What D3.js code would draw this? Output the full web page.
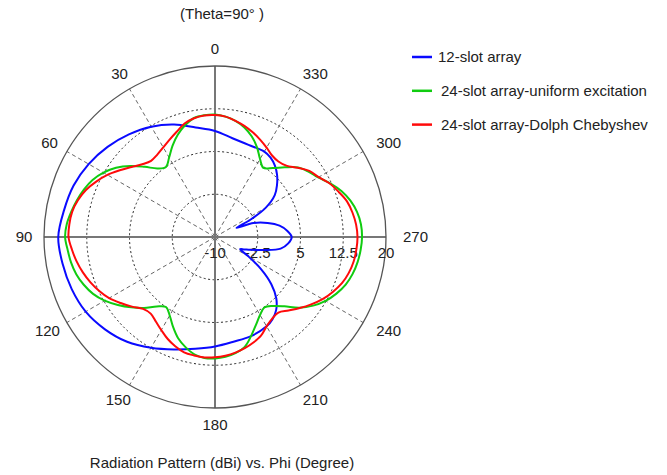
<!DOCTYPE html>
<html>
<head>
<meta charset="utf-8">
<script src="https://cdn.jsdelivr.net/npm/d3@7"></script>
<style>
  body { margin: 0; background: #fff; }
  svg text { font-family: "Liberation Sans", Arial, sans-serif; font-size: 15px; fill: #222; }
</style>
</head>
<body>
<svg id="chart" width="667" height="475"></svg>
<script>
// angles in degrees, counted counter-clockwise from the top (0 at top, 90 at left)
var angles = d3.range(0, 360, 5);

var greenGain = [
  11.5, 11.45, 11.2, 10.3, 9.1, 7.65, 6.1, 5.0, 5.7, 7.4, 9.4, 11.2, 12.6, 13.7, 14.45, 15.05, 15.6, 16.1, 16.3,
  15.95, 15.65, 15.2, 14.5, 13.6, 12.35, 10.8, 9.2, 7.6, 5.9, 5.0, 5.9, 7.4, 8.9, 10.0, 10.9, 11.3, 11.3,
  11.1, 10.7, 10.0, 8.5, 7.0, 5.8, 5.1, 5.8, 7.2, 9.3, 11.0, 12.4, 13.5, 14.4, 15.0, 15.4, 15.65, 15.8,
  15.7, 15.3, 14.6, 13.6, 12.3, 10.9, 10.0, 9.0, 7.3, 5.8, 4.8, 5.8, 7.4, 8.8, 9.9, 10.7, 11.2
];

var redGain = [
  11.4, 11.4, 11.15, 10.6, 9.65, 8.85, 8.15, 7.65, 7.45, 8.05, 9.1, 10.4, 11.8, 13.0, 14.1, 14.9, 15.45, 15.65, 15.7,
  15.2, 14.65, 14.0, 13.25, 12.4, 11.45, 10.2, 9.0, 7.85, 7.55, 8.1, 8.85, 9.7, 10.4, 10.95, 11.1, 11.2, 11.1,
  10.9, 10.6, 10.2, 9.7, 9.1, 8.1, 7.5, 7.3, 8.25, 9.4, 10.6, 11.8, 12.8, 13.7, 14.3, 14.7, 14.9, 15.0,
  14.85, 14.5, 14.0, 13.1, 12.2, 11.0, 10.2, 8.9, 7.7, 7.3, 7.45, 8.1, 8.8, 9.5, 10.15, 10.7, 11.2
];

// the 12-slot pattern has two deep nulls, so it gets its own angle list
var blueAngles = [0, 10, 20, 30, 40, 50, 60, 70, 80, 90, 100, 110, 120, 130, 140, 150, 160, 170, 180,
  190, 200, 210, 215, 220, 225, 230, 235, 240, 244, 247, 250, 255, 260, 265, 270,
  275, 280, 285, 290, 293, 296, 300, 305, 310, 315, 320, 325, 330, 340, 350];
var blueGain = [8.6, 9.5, 11.0, 12.35, 13.5, 14.6, 15.6, 16.4, 16.9, 17.5, 17.15, 16.75, 16.2, 15.2, 14.0, 12.45, 11.0, 9.9, 9.2,
  8.65, 8.5, 8.1, 7.6, 6.7, 5.2, 2.9, -0.1, -3.3, -5.1, -4.4, -3.4, -1.2, 1.7, 2.9, 3.45,
  2.7, 1.5, -0.45, -2.8, -5.9, -3.1, 0.3, 2.8, 4.2, 5.4, 6.35, 7.0, 7.3, 7.2, 7.6];

var angleTicks = d3.range(0, 360, 30);
var ringTicks = [-10, -2.5, 5, 12.5, 20];
var seriesNames = ["12-slot array", "24-slot array-uniform excitation", "24-slot array-Dolph Chebyshev"];
var seriesColors = ["#0a0aff", "#10cc10", "#ff0a0a"];

var cx = 215, cy = 237, R = 171;
var svg = d3.select("#chart");
var g = svg.append("g").attr("transform", "translate(" + cx + "," + cy + ")");

var r = d3.scaleLinear().domain([-10, 20]).range([0, R]);
var rad = function(deg) { return deg * Math.PI / 180; };

// dotted rings
g.selectAll(".ring")
  .data(ringTicks.slice(1, -1))
  .enter().append("circle")
    .attr("r", function(d) { return r(d); })
    .attr("fill", "none")
    .attr("stroke", "#222")
    .attr("stroke-width", 1)
    .attr("stroke-dasharray", "2,2.5");

// dashed spokes
g.selectAll(".spoke")
  .data(angleTicks.filter(function(d) { return d % 90 !== 0; }))
  .enter().append("line")
    .attr("x1", 0).attr("y1", 0)
    .attr("x2", function(d) { return -R * Math.sin(rad(d)); })
    .attr("y2", function(d) { return -R * Math.cos(rad(d)); })
    .attr("stroke", "#666")
    .attr("stroke-width", 1)
    .attr("stroke-dasharray", "4,3");

// solid axes
[0, 90].forEach(function(d) {
  g.append("line")
    .attr("x1", R * Math.sin(rad(d))).attr("y1", R * Math.cos(rad(d)))
    .attr("x2", -R * Math.sin(rad(d))).attr("y2", -R * Math.cos(rad(d)))
    .attr("stroke", "#777")
    .attr("stroke-width", 2);
});

g.append("circle")
  .attr("r", R)
  .attr("fill", "none")
  .attr("stroke", "#555")
  .attr("stroke-width", 1.3);

// ring labels under the right half of the horizontal axis
g.selectAll(".ringLabel")
  .data(ringTicks)
  .enter().append("text")
    .attr("x", function(d) { return r(d); })
    .attr("y", 21)
    .attr("text-anchor", "middle")
    .text(function(d) { return d; });

// angle labels outside the circle
g.selectAll(".angleLabel")
  .data(angleTicks)
  .enter().append("text")
    .attr("text-anchor", "middle")
    .attr("dy", "0.35em")
    .text(function(d) { return d; })
    .each(function(d) {
      var hw = this.getComputedTextLength() / 2;
      var s = Math.sin(rad(d)), c = Math.cos(rad(d));
      var push = s > 0 ? hw * 0.6 : hw + 2;
      d3.select(this)
        .attr("x", -186 * s - push * s)
        .attr("y", -188 * c);
    });

var line = d3.lineRadial()
  .angle(function(d) { return -rad(d[0]); })
  .radius(function(d) { return r(d[1]); })
  .curve(d3.curveCatmullRomClosed.alpha(0.5));

var series = [
  d3.zip(blueAngles, blueGain),
  d3.zip(angles, greenGain),
  d3.zip(angles, redGain)
];

g.selectAll(".pattern")
  .data(series)
  .enter().append("path")
    .attr("d", line)
    .attr("fill", "none")
    .attr("stroke", function(d, i) { return seriesColors[i]; })
    .attr("stroke-width", 2);

// title and axis caption
svg.append("text")
  .attr("x", 222).attr("y", 19)
  .attr("text-anchor", "middle")
  .text("(Theta=90° )");

svg.append("text")
  .attr("x", 222).attr("y", 468)
  .attr("text-anchor", "middle")
  .text("Radiation Pattern (dBi) vs. Phi (Degree)");

// legend
var legend = svg.selectAll(".legend")
  .data(seriesNames)
  .enter().append("g")
    .attr("transform", function(d, i) { return "translate(412," + (57 + i * 33.8) + ")"; });

legend.append("line")
  .attr("x1", 0).attr("x2", 20)
  .attr("stroke", function(d, i) { return seriesColors[i]; })
  .attr("stroke-width", 2.5);

legend.append("text")
  .attr("x", function(d, i) { return i === 0 ? 26 : 29; })
  .attr("dy", "0.35em")
  .text(function(d) { return d; });
</script>
</body>
</html>
